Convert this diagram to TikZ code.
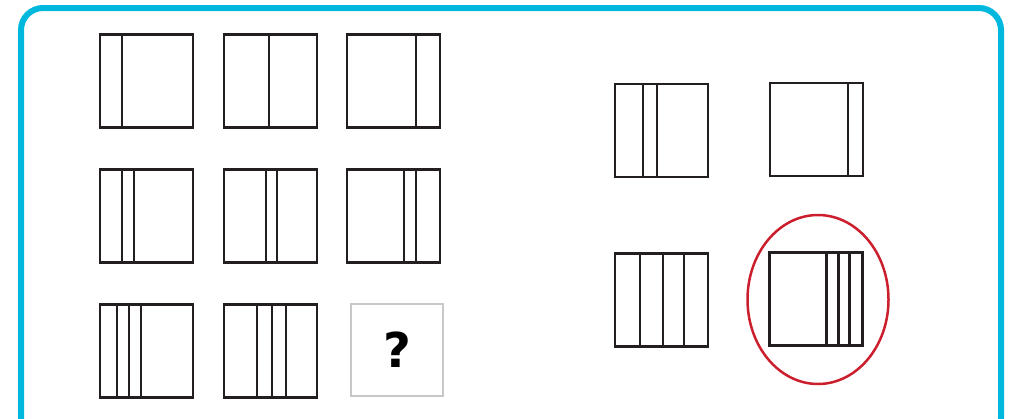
\documentclass[tikz,border=0pt]{standalone}
\usepackage{fontspec}
\newfontfamily\qfont{DejaVu Sans}
\definecolor{frame}{RGB}{0,183,221}
\definecolor{ink}{RGB}{35,31,32}
\definecolor{ring}{RGB}{204,31,45}
\definecolor{qgray}{RGB}{200,200,200}
\begin{document}
\begin{tikzpicture}[x=1pt, y=-1pt, panel/.style={rectangle, draw=ink, line width=2.8pt, minimum size=93pt, inner sep=0pt, outer sep=0pt}, bar/.style={draw=ink, line width=2.5pt}]
        \useasboundingbox (0,0) rectangle (1009,418);
        \draw[frame, line width=6pt, rounded corners=22pt] (21,8) rectangle (1001,440);
        % puzzle grid
        \node[panel] (b1) at (146.5, 81) {};
        \node[panel] (b2) at (270.5, 81) {};
        \node[panel] (b3) at (393.5, 81) {};
        \node[panel] (b4) at (146.5, 216) {};
        \node[panel] (b5) at (270.5, 216) {};
        \node[panel] (b6) at (393.5, 216) {};
        \node[panel] (b7) at (146.5, 351) {};
        \node[panel] (b8) at (270.5, 351) {};
        \node[panel, draw=qgray, line width=2pt, minimum size=92pt, font=\qfont\bfseries\fontsize{48}{48}\selectfont] (q) at (397, 350) {?};
        \draw[bar] ([xshift=22pt]b1.north west) -- ([xshift=22pt]b1.south west);
        \draw[bar] ([xshift=45pt]b2.north west) -- ([xshift=45pt]b2.south west);
        \draw[bar] ([xshift=69pt]b3.north west) -- ([xshift=69pt]b3.south west);
        \foreach \d in {22,34} \draw[bar] ([xshift=\d pt]b4.north west) -- ([xshift=\d pt]b4.south west);
        \foreach \d in {42,53} \draw[bar] ([xshift=\d pt]b5.north west) -- ([xshift=\d pt]b5.south west);
        \foreach \d in {57,69} \draw[bar] ([xshift=\d pt]b6.north west) -- ([xshift=\d pt]b6.south west);
        \foreach \d in {17,29,41} \draw[bar] ([xshift=\d pt]b7.north west) -- ([xshift=\d pt]b7.south west);
        \foreach \d in {33,48,62} \draw[bar] ([xshift=\d pt]b8.north west) -- ([xshift=\d pt]b8.south west);
        % answers
        \node[panel] (a) at (661.5, 130.5) {};
        \node[panel] (b) at (816.5, 129.5) {};
        \node[panel] (c) at (661.5, 300) {};
        \node[panel] (d) at (816, 299) {};
        \foreach \d in {28,42} \draw[bar] ([xshift=\d pt]a.north west) -- ([xshift=\d pt]a.south west);
        \draw[bar] ([xshift=78pt]b.north west) -- ([xshift=78pt]b.south west);
        \foreach \d in {25,48,69} \draw[bar] ([xshift=\d pt]c.north west) -- ([xshift=\d pt]c.south west);
        \foreach \d in {57,69,80} \draw[bar] ([xshift=\d pt]d.north west) -- ([xshift=\d pt]d.south west);
        \draw[ring, line width=2.5pt] (818, 299.5) ellipse [x radius=70.5pt, y radius=84.5pt];
    \end{tikzpicture}
\end{document}
